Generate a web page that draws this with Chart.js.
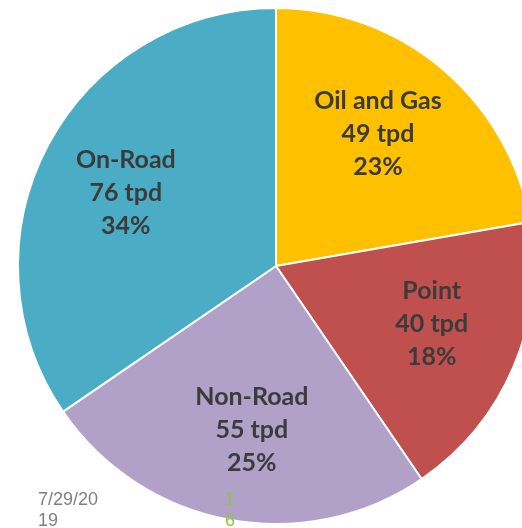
<!DOCTYPE html>
<html>
<head>
<meta charset="utf-8">
<script src="https://cdn.jsdelivr.net/npm/chart.js@4/dist/chart.umd.min.js"></script>
<style>
  html, body { margin:0; padding:0; background:#fff; overflow:hidden; width:522px; height:528px; }
  #wrap { position:absolute; left:0; top:0; width:552px; height:528px; }
  .foot { position:absolute; font-family:"Liberation Sans", Arial, sans-serif; font-size:18px; line-height:21px; }
  #date { left:38px; top:489px; color:#7F7F7F; }
  #page { left:225px; top:489px; color:#8DC63F; }
</style>
</head>
<body>
<div id="wrap"><canvas id="c"></canvas></div>
<div class="foot" id="date">7/29/20<br>19</div>
<div class="foot" id="page">1<br>6</div>
<script>
const categories = ["Oil and Gas", "Point", "Non-Road", "On-Road"];
const tpdValues = [49, 40, 55, 76];
const percentLabels = ["23%", "18%", "25%", "34%"];
const sliceColors = ["#FFC000", "#C0504D", "#B1A0C7", "#4BACC6"];

const labelPlugin = {
  id: 'sliceLabels',
  afterDatasetsDraw(chart) {
    const ctx = chart.ctx;
    const meta = chart.getDatasetMeta(0);
    ctx.save();
    ctx.font = 'bold 25px Lato, "Open Sans", sans-serif';
    ctx.fillStyle = '#3B3B3B';
    ctx.textAlign = 'center';
    ctx.textBaseline = 'middle';
    meta.data.forEach((arc, i) => {
      const p = arc.getProps(['x','y','startAngle','endAngle','outerRadius'], true);
      const mid = (p.startAngle + p.endAngle) / 2 - 0.04;
      const r = p.outerRadius * 0.645;
      const cx = p.x + Math.cos(mid) * r;
      const cy = p.y + Math.sin(mid) * r - 1;
      const lines = [categories[i], tpdValues[i] + ' tpd', percentLabels[i]];
      lines.forEach((t, k) => ctx.fillText(t, cx, cy + (k - 1) * 33));
    });
    ctx.restore();
  }
};

new Chart(document.getElementById('c'), {
  type: 'pie',
  data: {
    labels: categories,
    datasets: [{
      data: tpdValues,
      backgroundColor: sliceColors,
      borderColor: '#FFFFFF',
      borderWidth: 2
    }]
  },
  options: {
    responsive: true,
    maintainAspectRatio: false,
    animation: false,
    layout: { padding: { top: 7, bottom: 3, left: 0, right: 0 } },
    plugins: { legend: { display: false }, tooltip: { enabled: false } }
  },
  plugins: [labelPlugin]
});
</script>
</body>
</html>
